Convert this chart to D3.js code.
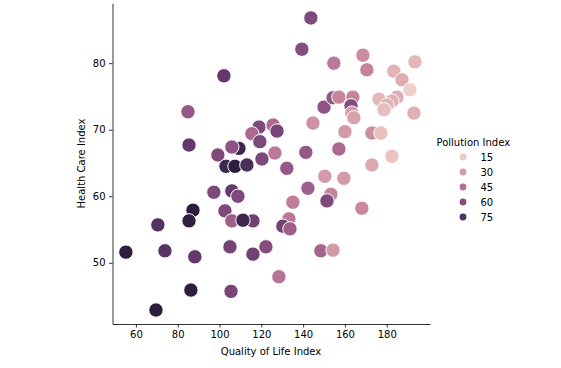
<!DOCTYPE html>
<html>
<head>
<meta charset="utf-8">
<script src="https://cdn.jsdelivr.net/npm/d3@7"></script>
<style>
  body { margin: 0; background: #fff; }
  svg { display: block; font-family: "DejaVu Sans", sans-serif; }
</style>
</head>
<body>
<svg id="chart" width="561" height="368"></svg>
<script>
// ---- data ----
const qualityOfLife = [102.1, 84.9, 143.7, 139.4, 154.7, 168.6, 170.5, 183.4, 193.5, 187.3, 191.1,
  150.0, 154.3, 157.1, 163.8, 162.9, 163.3, 164.3, 144.7, 160.0, 172.9, 177.2, 176.3, 184.9, 182.5,
  180.1, 178.7, 193.0, 126.5, 141.3, 157.1, 172.9, 182.5, 132.2, 150.4, 159.5, 142.3, 153.3, 151.4,
  135.1, 168.1, 133.2, 130.3, 133.7, 122.2, 148.5, 154.3, 128.4, 55.2, 70.5, 73.9, 88.2, 86.3, 69.6,
  105.0, 105.5, 116.0, 87.3, 85.4, 102.6, 105.9, 116.0, 111.2, 85.4, 99.2, 109.3, 105.9, 103.1, 107.4,
  113.1, 120.3, 118.9, 115.5, 119.3, 125.6, 127.5, 97.3, 105.9, 108.8];
const healthCare = [78.1, 72.7, 86.8, 82.1, 80.0, 81.2, 79.0, 78.8, 80.2, 77.5, 76.0,
  73.4, 74.8, 74.9, 74.9, 73.6, 72.5, 71.8, 71.0, 69.7, 69.5, 69.5, 74.6, 74.9, 74.3,
  73.7, 73.0, 72.5, 66.5, 66.6, 67.1, 64.7, 66.0, 64.2, 63.0, 62.7, 61.2, 60.3, 59.3,
  59.1, 58.2, 56.6, 55.5, 55.1, 52.4, 51.8, 51.9, 47.9, 51.6, 55.7, 51.8, 50.9, 45.9, 42.9,
  52.4, 45.7, 51.3, 57.9, 56.3, 57.8, 56.3, 56.3, 56.4, 67.7, 66.2, 67.2, 67.4, 64.5, 64.5,
  64.7, 65.6, 70.4, 69.4, 68.2, 70.7, 69.8, 60.6, 60.8, 60.0];
const pollution = [70, 55, 62, 60, 42, 35, 38, 22, 20, 24, 12,
  57, 55, 37, 37, 60, 30, 28, 33, 30, 34, 17, 20, 24, 22,
  22, 18, 23, 42, 55, 48, 25, 16, 55, 30, 30, 52, 37, 62,
  40, 36, 42, 65, 52, 60, 50, 30, 44, 85, 74, 73, 70, 85, 85,
  65, 64, 66, 85, 84, 62, 52, 66, 80, 70, 62, 80, 57, 80, 85,
  76, 62, 62, 48, 62, 47, 64, 62, 70, 62];
const legendValues = [15, 30, 45, 60, 75];
const xTicks = [60, 80, 100, 120, 140, 160, 180];
const yTicks = [50, 60, 70, 80];

// seaborn default cubehelix colormap (light=.85, dark=.15)
function cubehelix(t) {
  const x = 0.85 + t * (0.15 - 0.85);
  const start = 0, rot = 0.4, gamma = 1, hue = 0.8;
  const f = (p0, p1) => {
    const xg = Math.pow(x, gamma);
    const a = hue * xg * (1 - xg) / 2;
    const phi = 2 * Math.PI * (start / 3 + rot * x);
    return Math.max(0, Math.min(1, xg + a * (p0 * Math.cos(phi) + p1 * Math.sin(phi))));
  };
  const r = f(-0.14861, 1.78277), g = f(-0.29227, -0.90649), b = f(1.97294, 0);
  return d3.rgb(r * 255, g * 255, b * 255).formatHex();
}

const pExt = d3.extent(pollution);
const norm = d3.scaleLinear().domain(pExt).range([0, 1]).clamp(true);
const color = v => cubehelix(norm(v));

const svg = d3.select("#chart");
const x = d3.scaleLinear().domain([48.8, 200.7]).range([112.5, 430]);
const y = d3.scaleLinear().domain([40.8, 89.0]).range([324, 3.3]);

// axes
const xAxis = svg.append("g").attr("transform", "translate(0,324)")
  .call(d3.axisBottom(x).tickValues(xTicks).tickSize(3.5).tickSizeOuter(0).tickPadding(3.5));
const yAxis = svg.append("g").attr("transform", "translate(112.5,0)")
  .call(d3.axisLeft(y).tickValues(yTicks).tickSize(3.5).tickSizeOuter(0).tickPadding(3.5));
[xAxis, yAxis].forEach(g => {
  g.selectAll("text").attr("font-size", 10).attr("fill", "#000").attr("font-family", "DejaVu Sans");
  g.selectAll("line").attr("stroke", "#000").attr("stroke-width", 0.8);
  g.select(".domain").attr("stroke", "#000").attr("stroke-width", 0.8);
});

// axis labels
svg.append("text").attr("x", 271).attr("y", 355).attr("text-anchor", "middle")
  .attr("font-size", 10).text("Quality of Life Index");
svg.append("text").attr("transform", "translate(84.5,163.5) rotate(-90)").attr("text-anchor", "middle")
  .attr("font-size", 10).text("Health Care Index");

// points
const pts = qualityOfLife.map((q, i) => ({ q, h: healthCare[i], p: pollution[i] }));
svg.append("g").selectAll("circle").data(pts).join("circle")
  .attr("cx", d => x(d.q)).attr("cy", d => y(d.h)).attr("r", 7.2)
  .attr("fill", d => color(d.p)).attr("stroke", "#fff").attr("stroke-width", 1);

// legend
const lg = svg.append("g");
lg.append("text").attr("x", 436.5).attr("y", 146).attr("font-size", 10).text("Pollution Index");
const items = lg.selectAll("g.item").data(legendValues).join("g").attr("class", "item")
  .attr("transform", (d, i) => `translate(0,${157 + i * 15})`);
items.append("circle").attr("cx", 463).attr("cy", 0).attr("r", 3.4).attr("fill", d => color(d));
items.append("text").attr("x", 480.5).attr("y", 3.6).attr("font-size", 10).text(d => d);
</script>
</body>
</html>
